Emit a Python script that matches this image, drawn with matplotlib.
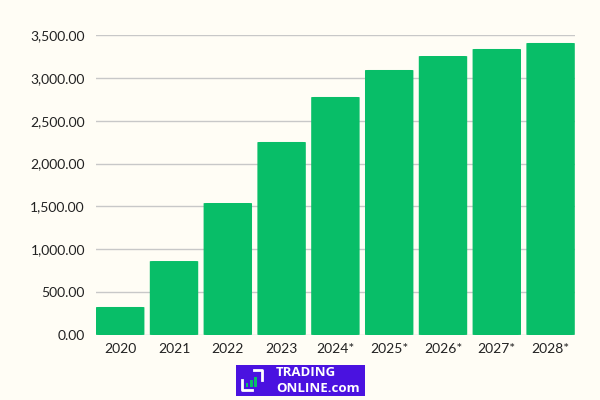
import matplotlib.pyplot as plt
from matplotlib.patches import Rectangle, FancyBboxPatch

years = ['2020', '2021', '2022', '2023', '2024*', '2025*', '2026*', '2027*', '2028*']
values = [327, 863, 1540, 2252, 2777, 3092, 3255, 3337, 3407]

bg = '#FFFDF5'
green = '#08BE68'

plt.rcParams['font.family'] = ['Lato', 'DejaVu Sans']

fig = plt.figure(figsize=(6, 4), dpi=100, facecolor=bg)
ax = fig.add_axes([0.16, 0.1625, 0.798, 0.75], facecolor=bg)

bars = ax.bar(range(len(years)), values, width=0.9, color=green, zorder=3)
# small rounded corners on the bars
for b in bars:
    x, y = b.get_x(), b.get_y()
    w, h = b.get_width(), b.get_height()
    b.set_visible(False)
    ax.add_patch(FancyBboxPatch((x, y), w, h, boxstyle='round,pad=0,rounding_size=0.06',
                                mutation_aspect=60, fc=green, ec='none', zorder=3))

ax.set_xlim(-0.45, len(years) - 0.55)
ax.set_ylim(0, 3500)
ax.set_yticks(range(0, 3501, 500))
ax.set_yticklabels([f'{v:,.2f}' for v in range(0, 3501, 500)])
ax.set_xticks(range(len(years)))
ax.set_xticklabels(years)
ax.tick_params(length=0, labelsize=10, colors='#222222')
ax.tick_params(axis='y', pad=8)
ax.tick_params(axis='x', pad=6)
ax.grid(axis='y', color='#C8C8C8', linewidth=1, zorder=0)
for s in ax.spines.values():
    s.set_visible(False)

# logo
fig.patches.append(Rectangle((236 / 600, 4 / 400), 129 / 600, 31 / 400,
                             transform=fig.transFigure, fc='#4A12E0', ec='none'))
fig.text(276 / 600, 28 / 400, 'TRADING', color='white', fontsize=9.5, fontweight='bold',
         va='center', ha='left', family=['Open Sans', 'DejaVu Sans'])
fig.text(276 / 600, 12 / 400, 'ONLINE.com', color='white', fontsize=9.5, fontweight='bold',
         va='center', ha='left', family=['Open Sans', 'DejaVu Sans'])
# icon: corner brackets and small green bars
fig.lines.append(plt.Line2D([242 / 600, 242 / 600, 252 / 600], [20 / 400, 10 / 400, 10 / 400],
                            transform=fig.transFigure, color='white', lw=2))
fig.lines.append(plt.Line2D([254 / 600, 262 / 600, 262 / 600], [30 / 400, 30 / 400, 20 / 400],
                            transform=fig.transFigure, color='white', lw=2))
for i, h in enumerate([4, 7, 10]):
    fig.patches.append(Rectangle(((246 + i * 4) / 600, 13 / 400), 2.5 / 600, h / 400,
                                 transform=fig.transFigure, fc=green, ec='none'))

fig.savefig('out.png', dpi=100, facecolor=bg)
